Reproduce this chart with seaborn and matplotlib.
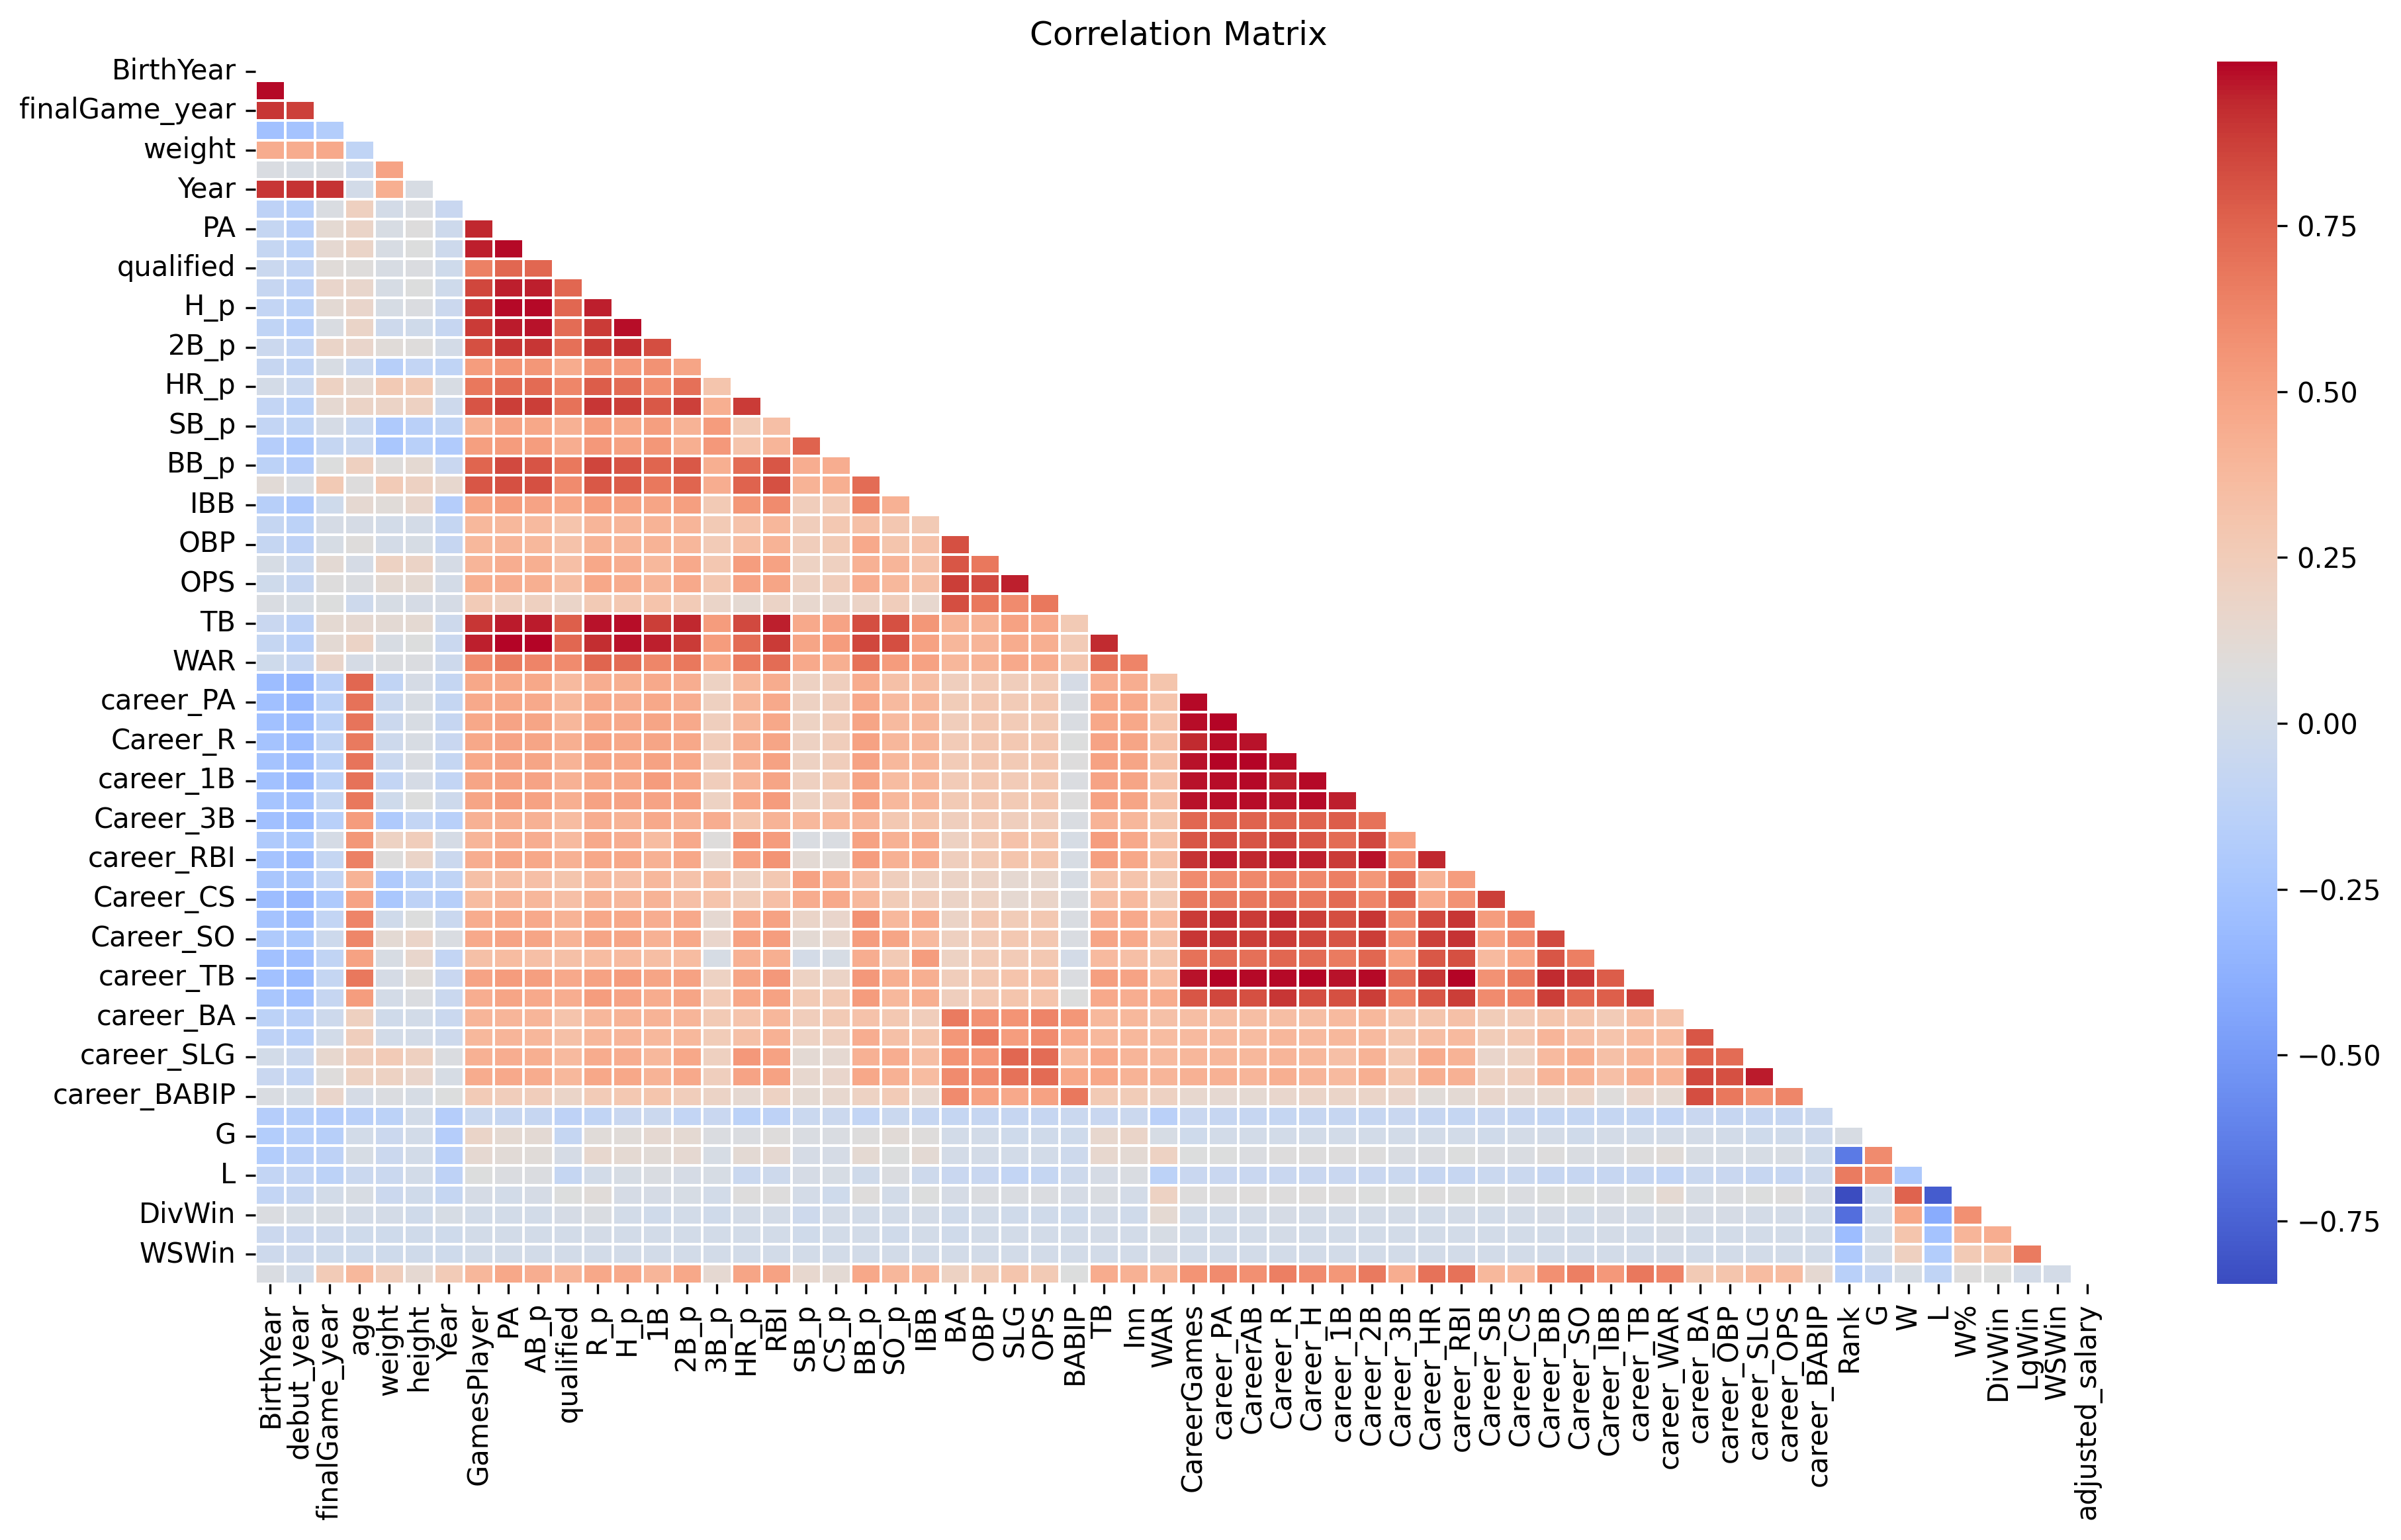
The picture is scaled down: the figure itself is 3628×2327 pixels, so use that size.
import numpy as np
import pandas as pd
import seaborn as sns
import matplotlib.pyplot as plt

# nomes das colunas da matriz
columns = ['BirthYear', 'debut_year', 'finalGame_year', 'age', 'weight', 'height', 'Year', 'GamesPlayer',
           'PA', 'AB_p', 'qualified', 'R_p', 'H_p', '1B', '2B_p', '3B_p', 'HR_p', 'RBI', 'SB_p', 'CS_p',
           'BB_p', 'SO_p', 'IBB', 'BA', 'OBP', 'SLG', 'OPS', 'BABIP', 'TB', 'Inn', 'WAR', 'CareerGames',
           'career_PA', 'CareerAB', 'Career_R', 'Career_H', 'career_1B', 'Career_2B', 'Career_3B',
           'Career_HR', 'career_RBI', 'Career_SB', 'Career_CS', 'Career_BB', 'Career_SO', 'Career_IBB',
           'career_TB', 'career_WAR', 'career_BA', 'career_OBP', 'career_SLG', 'career_OPS', 'career_BABIP',
           'Rank', 'G', 'W', 'L', 'W%', 'DivWin', 'LgWin', 'WSWin', 'adjusted_salary']

# valores, uma lista por linha (triangulo inferior)
debut_year = [.99]
finalGame_year = [.90, .87]
age = [-.27, -.26, -.18]
weight = [.45, .45, .46, -.11]
height = [.05, .04, .05, -.03, .49]
year = [.90, .91, .91, .0, .43, .04]
games_player = [-.12, -.15, .05, .22, .01, .05, -.06]
pa = [-.08, -.14, .13, .18, .04, .08, -.03, .94]
ab_p = [-.08, -.13, .14, .18, .04, .07, -.03, .95, .99]
qualified = [-.05, -.09, .10, .09, .04, .06, -.02, .64, .74, .74]
r_p = [-.07, -.12, .17, .16, .03, .07, -.02, .85, .95, .95, .74]
h_p = [-.09, -.13, .12, .17, .03, .06, -.04, .90, .99, .99, .74, .95]
b1 = [-.11, -.15, .05, .18, -.03, -.01, -.07, .89, .96, .97, .72, .89, .98]
b2_p = [-.04, -.09, .18, .17, .10, .09, .01, .82, .90, .90, .71, .88, .92, .83]
b3_p = [-.07, -.10, .04, -.05, -.16, -.09, -.11, .52, .56, .55, .45, .57, .54, .57, .48]
hr_p = [.01, -.05, .20, .14, .27, .27, .04, .68, .73, .73, .62, .78, .72, .59, .71, .30]
rbi = [-.09, -.13, .14, .19, .19, .21, -.03, .81, .88, .88, .70, .90, .88, .79, .87, .43, .89]
sb_p = [-.09, -.11, .02, -.05, -.20, -.14, -.10, .42, .49, .47, .42, .52, .47, .51, .41, .53, .27, .34]
cs_p = [-.17, -.20, -.08, -.05, -.23, -.15, -.19, .51, .53, .52, .44, .54, .50, .55, .43, .54, .31, .40, .76]
bb_p = [-.13, -.17, .07, .22, .09, .13, -.06, .75, .84, .81, .68, .86, .81, .75, .79, .43, .72, .80, .44, .44]
so_p = [.11, .05, .27, .08, .26, .21, .15, .80, .82, .82, .60, .79, .78, .68, .75, .44, .76, .82, .41, .43, .72]
ibb = [-.16, -.21, -.02, .14, .10, .16, -.17, .48, .52, .49, .47, .53, .50, .48, .51, .27, .55, .60, .24, .26,
       .62, .42]
ba = [-.08, -.13, .02, .02, .0, .01, -.08, .38, .38, .37, .31, .40, .40, .41, .40, .27, .32, .39, .24, .28,
      .33, .29, .27]
obp = [-.08, -.12, .03, .09, .01, .03, -.07, .38, .40, .38, .32, .41, .40, .41, .39, .26, .35, .41, .24, .27,
       .46, .30, .32, .82]
slg = [.03, -.05, .12, .02, .20, .19, .02, .40, .44, .43, .34, .47, .44, .38, .46, .29, .52, .50, .20, .22,
       .42, .40, .32, .80, .68]
ops = [-.02, -.07, .08, .06, .13, .13, .01, .43, .44, .43, .35, .47, .45, .40, .46, .29, .49, .48, .21, .24,
       .44, .38, .33, .88, .84, .95]
babip = [.05, .03, .07, -.03, .03, .02, .02, .26, .22, .22, .18, .27, .28, .31, .26, .18, .13, .19, .15, .16,
         .19, .24, .15, .83, .68, .60, .68]
tb = [-.06, -.12, .13, .14, .12, .13, -.03, .90, .96, .96, .77, .97, .98, .88, .94, .53, .84, .95, .46, .49,
      .83, .82, .55, .41, .41, .50, .46, .27]
inn = [-.08, -.14, .12, .19, .04, .07, -.05, .95, .995, .998, .74, .92, .97, .95, .89, .53, .72, .89, .48, .53,
       .85, .83, .50, .39, .40, .45, .43, .26, .93]
war = [-.02, -.07, .17, .02, .06, .06, -.03, .60, .66, .63, .60, .75, .72, .62, .68, .47, .66, .72, .46, .43,
       .70, .53, .50, .39, .41, .46, .45, .29, .72, .63]
career_games = [-.30, -.33, -.14, .74, -.10, .02, -.08, .47, .47, .47, .37, .44, .43, .46, .44, .20, .38, .45,
                .21, .23, .45, .33, .35, .23, .26, .24, .26, .02, .44, .44, .30]
career_pa = [-.28, -.32, -.13, .70, -.05, .04, -.08, .46, .47, .46, .38, .46, .44, .47, .44, .22, .39, .46,
             .21, .23, .46, .37, .38, .25, .28, .26, .28, .05, .47, .46, .31, .99]
career_ab = [-.27, -.30, -.13, .69, -.04, .04, -.07, .47, .49, .48, .39, .47, .46, .48, .46, .23, .39, .47,
             .20, .24, .48, .37, .38, .24, .28, .26, .27, .05, .47, .47, .31, .98, .995]
career_r = [-.26, -.30, -.10, .67, -.03, .04, -.06, .47, .49, .48, .43, .50, .47, .48, .47, .24, .43, .48,
            .21, .24, .50, .39, .39, .26, .29, .28, .29, .07, .49, .48, .33, .93, .98, .97]
career_h = [-.26, -.30, -.13, .69, -.05, .05, -.08, .47, .49, .48, .41, .48, .47, .50, .47, .23, .42, .50,
            .21, .24, .49, .38, .38, .26, .29, .27, .29, .08, .50, .48, .33, .97, .995, .995, .98]
career_1b = [-.27, -.33, -.13, .70, -.09, .02, -.09, .48, .50, .49, .42, .47, .47, .53, .47, .24, .40, .48,
             .22, .25, .48, .36, .38, .26, .28, .26, .28, .06, .49, .48, .32, .97, .98, .99, .95, .99]
career_2b = [-.25, -.27, -.08, .68, -.02, .07, -.03, .48, .52, .50, .43, .50, .49, .49, .50, .20, .47, .53,
             .20, .23, .50, .38, .39, .27, .29, .27, .29, .08, .50, .48, .33, .97, .98, .98, .97, .985, .95]
career_3b = [-.28, -.31, -.15, .53, -.20, -.09, -.15, .42, .43, .42, .36, .44, .41, .46, .42, .44, .30, .41,
             .38, .38, .40, .28, .30, .23, .26, .23, .24, .05, .41, .39, .30, .74, .76, .76, .76, .76, .78, .70]
career_hr = [-.20, -.22, .02, .55, .20, .24, .02, .40, .45, .44, .37, .46, .44, .36, .46, .09, .56, .53,
             .05, .05, .50, .42, .45, .21, .27, .32, .30, .03, .52, .46, .33, .80, .83, .81, .86, .80, .72,
             .84, .50]
career_rbi = [-.26, -.30, -.08, .64, .08, .18, -.04, .44, .48, .47, .42, .47, .47, .42, .47, .15, .50, .56,
              .12, .10, .52, .42, .44, .23, .27, .30, .30, .04, .51, .47, .33, .91, .96, .94, .96, .95, .89,
              .97, .58, .94]
career_sb = [-.24, -.24, -.09, .41, -.20, -.13, -.11, .33, .35, .34, .30, .37, .34, .38, .32, .33, .20, .28,
             .50, .43, .34, .23, .20, .19, .19, .14, .15, .04, .31, .31, .27, .60, .60, .61, .63, .61, .65,
             .55, .70, .41, .52]
career_cs = [-.30, -.33, -.20, .49, -.23, -.12, -.16, .36, .40, .39, .34, .41, .39, .41, .34, .31, .25, .34,
             .45, .46, .38, .25, .24, .19, .20, .14, .18, .06, .35, .37, .27, .67, .67, .68, .70, .68, .73,
             .63, .76, .46, .57, .88]
career_bb = [-.26, -.30, -.09, .63, -.01, .07, -.05, .45, .47, .46, .41, .47, .47, .44, .46, .14, .46, .50,
             .18, .17, .57, .38, .45, .19, .29, .25, .28, .05, .44, .46, .37, .89, .92, .89, .94, .88, .83,
             .90, .61, .84, .90, .52, .63]
career_so = [-.20, -.22, -.03, .62, .12, .18, .05, .46, .49, .48, .41, .48, .48, .42, .47, .17, .50, .52,
             .12, .15, .52, .48, .37, .22, .26, .28, .29, .05, .48, .46, .33, .90, .90, .88, .89, .85, .81,
             .88, .60, .87, .91, .50, .60, .84]
career_ibb = [-.27, -.28, -.10, .50, .04, .16, -.09, .33, .36, .34, .33, .36, .37, .35, .36, .03, .42, .43,
              .01, .03, .44, .27, .52, .20, .26, .26, .28, .01, .37, .34, .30, .70, .72, .71, .74, .72, .66,
              .74, .50, .79, .82, .37, .48, .80, .65]
career_tb = [-.27, -.31, -.08, .68, .02, .10, -.06, .49, .53, .51, .46, .50, .53, .48, .50, .20, .48, .54,
             .20, .19, .54, .43, .43, .24, .28, .31, .33, .06, .51, .49, .36, .97, .995, .99, .99, .995, .97,
             .99, .72, .90, .995, .57, .67, .93, .90, .78]
career_war = [-.24, -.27, -.07, .52, .01, .06, -.05, .44, .48, .46, .44, .52, .49, .45, .48, .26, .47, .50,
              .27, .27, .53, .38, .43, .23, .28, .30, .31, .07, .46, .44, .45, .80, .85, .82, .90, .83, .82,
              .88, .65, .80, .88, .60, .63, .88, .74, .77, .88]
career_ba = [-.13, -.14, -.03, .22, -.01, .0, -.05, .40, .40, .40, .31, .39, .41, .41, .40, .27, .31, .39,
             .24, .27, .32, .28, .24, .66, .57, .56, .63, .55, .38, .38, .33, .35, .35, .35, .35, .35, .37,
             .38, .31, .30, .33, .25, .26, .30, .30, .26, .35, .31]
career_obp = [-.12, -.15, .0, .23, .0, .01, -.03, .38, .40, .39, .33, .39, .40, .38, .38, .25, .33, .42,
              .20, .22, .44, .33, .30, .55, .66, .52, .60, .46, .38, .38, .36, .37, .37, .36, .39, .37, .38,
              .37, .30, .35, .37, .25, .28, .40, .34, .31, .36, .36, .80]
career_slg = [.0, -.04, .15, .23, .26, .22, .06, .42, .44, .43, .37, .45, .44, .38, .47, .22, .54, .50,
              .12, .14, .42, .44, .35, .56, .54, .74, .72, .38, .46, .40, .37, .39, .39, .38, .40, .38, .34,
              .41, .28, .45, .41, .17, .20, .37, .43, .33, .39, .38, .76, .72]
career_ops = [-.06, -.09, .09, .20, .20, .17, .03, .45, .46, .45, .38, .47, .47, .41, .46, .23, .49, .50,
              .15, .17, .47, .42, .36, .60, .60, .70, .73, .47, .47, .41, .40, .42, .42, .40, .43, .40, .37,
              .43, .30, .43, .42, .20, .23, .40, .41, .34, .42, .41, .84, .82, .96]
career_babip = [.05, .03, .17, .02, .06, .03, .07, .26, .24, .24, .18, .26, .28, .30, .24, .19, .14, .20,
                .13, .15, .20, .26, .15, .60, .50, .46, .50, .68, .27, .25, .21, .15, .14, .13, .16, .18, .18,
                .18, .17, .10, .12, .16, .14, .15, .18, .09, .17, .13, .83, .68, .57, .62]
rank = [-.17, -.16, -.17, -.14, -.13, .0, -.17, -.05, -.07, -.07, -.12, -.10, -.06, -.04, -.09, -.06, -.13,
        -.12, -.05, -.04, -.09, -.05, -.07, -.08, -.07, -.07, -.07, -.05, -.06, -.04, -.14, -.06, -.07, -.07,
        -.08, -.07, -.07, -.07, -.06, -.07, -.08, -.06, -.07, -.08, -.08, -.08, -.08, -.09, -.06, -.07, -.07,
        -.07, -.05]
g = [-.18, -.15, -.16, .0, -.04, .0, -.17, .18, .13, .12, -.08, .10, .10, .14, .13, .06, .06, .09, .05, .05,
     .08, .11, .09, .0, .0, -.02, -.01, -.02, .15, .18, .03, -.02, .0, .0, .0, .0, .0, .0, .0, .0, .0, -.01,
     .01, .01, -.01, .01, .0, .01, .01, .0, -.02, -.01, -.03, .04]
w = [-.18, -.14, -.12, .03, -.04, .0, -.14, .14, .11, .10, .02, .15, .13, .11, .14, .03, .12, .14, .02, .02,
     .13, .07, .12, .01, .01, .0, .0, -.03, .15, .12, .20, .07, .07, .06, .08, .08, .08, .08, .05, .06, .07,
     .06, .05, .08, .05, .05, .08, .10, .04, .03, .03, .04, -.01, -.65, .60]
l = [-.09, -.09, -.13, -.05, -.05, .0, -.12, .07, .06, .06, -.08, .0, .03, .05, .02, .03, -.05, -.03, .02, .03,
     -.01, .06, -.03, -.06, -.06, -.09, -.08, -.03, .02, .05, -.13, -.06, -.06, -.06, -.06, -.06, -.06, -.06,
     -.05, -.07, -.07, -.05, -.05, -.07, -.07, -.07, -.07, -.09, -.05, -.06, -.07, -.07, -.03, .66, .60, -.21]
w_pct = [-.09, -.07, .0, .04, -.04, -.01, -.08, .02, .0, .02, .07, .10, .02, .02, .03, .0, .08, .08, .01, -.02,
         .09, .0, .07, .02, .06, .05, .06, .02, .05, .01, .20, .08, .08, .09, .08, .09, .08, .07, .07, .08, .07,
         .07, .06, .07, .07, .06, .07, .13, .04, .06, .07, .08, .02, -.845, .0, .76, -.78]
div_win = [.06, .03, .04, .01, .01, -.01, .03, .0, .0, .0, .02, .05, .0, -.01, .0, -.01, .01, .01, -.03, .01,
           .0, .0, .01, -.01, .0, -.01, -.01, -.02, .01, -.01, .13, .0, .0, .01, .02, .01, .01, .01, .01, .0,
           .01, .0, .01, .02, .0, .02, .01, .04, .02, .02, .01, .01, .0, -.70, .0, .47, -.40, .58]
lg_win = [-.04, -.04, -.03, -.02, -.02, -.01, -.02, .0, .0, .0, .0, .01, .0, .0, .0, .0, .0, .0, -.01, .0,
          .0, -.01, .0, -.01, .0, .0, .0, .0, .01, .0, .03, .0, .0, .0, .01, .0, .0, .0, .0, .0,
          .0, .0, .0, .0, .0, .01, .0, .02, .0, .0, .0, .0, .0, -.30, .0, .30, -.26, .40, .44]
ws_win = [-.03, -.03, -.02, -.02, -.02, -.01, -.02, .0, .0, .0, .0, .0, .0, .0, .0, .0, .0, .0, .0, .0,
          .0, .0, .0, .0, .0, .0, .0, .0, .0, .0, .02, .0, .0, .0, .0, .0, .0, .0, .0, .0,
          .0, .0, .0, .0, .0, .0, .0, .01, .0, .0, .0, .0, .0, -.20, .0, .22, -.18, .27, .30, .66]
adjusted_salary = [.05, .0, .26, .38, .24, .14, .26, .39, .47, .44, .40, .47, .46, .40, .47, .14, .48, .50,
                   .15, .12, .47, .39, .38, .20, .25, .30, .27, .07, .45, .42, .38, .56, .60, .58, .65, .60,
                   .55, .67, .44, .70, .70, .38, .37, .58, .65, .54, .68, .63, .27, .30, .36, .36, .14, -.15,
                   -.07, .03, -.11, .08, .07, .01, .01]

rows = [debut_year, finalGame_year, age, weight, height, year, games_player, pa, ab_p, qualified, r_p, h_p, b1,
        b2_p, b3_p, hr_p, rbi, sb_p, cs_p, bb_p, so_p, ibb, ba, obp, slg, ops, babip, tb, inn, war, career_games,
        career_pa, career_ab, career_r, career_h, career_1b, career_2b, career_3b, career_hr, career_rbi,
        career_sb, career_cs, career_bb, career_so, career_ibb, career_tb, career_war, career_ba, career_obp,
        career_slg, career_ops, career_babip, rank, g, w, l, w_pct, div_win, lg_win, ws_win, adjusted_salary]

# montar a matriz de correlacao
corr = pd.DataFrame(np.nan, index=columns, columns=columns)
for i, r in enumerate(rows):
    corr.iloc[i + 1, :i + 1] = r

# esconder o triangulo superior
mask = np.triu(np.ones(corr.shape, dtype=bool))

fig = plt.figure(figsize=(3629 / 300, 2327 / 300), dpi=300)
ax = fig.add_axes([0.1063, 0.1663, 0.7689, 0.7939])
cax = fig.add_axes([0.9231, 0.1663, 0.0251, 0.7939])

sns.heatmap(corr, mask=mask, cmap='coolwarm', linewidths=0.5, ax=ax, cbar_ax=cax)
ax.set_title('Correlation Matrix')

fig.savefig('out.png', dpi=300)
